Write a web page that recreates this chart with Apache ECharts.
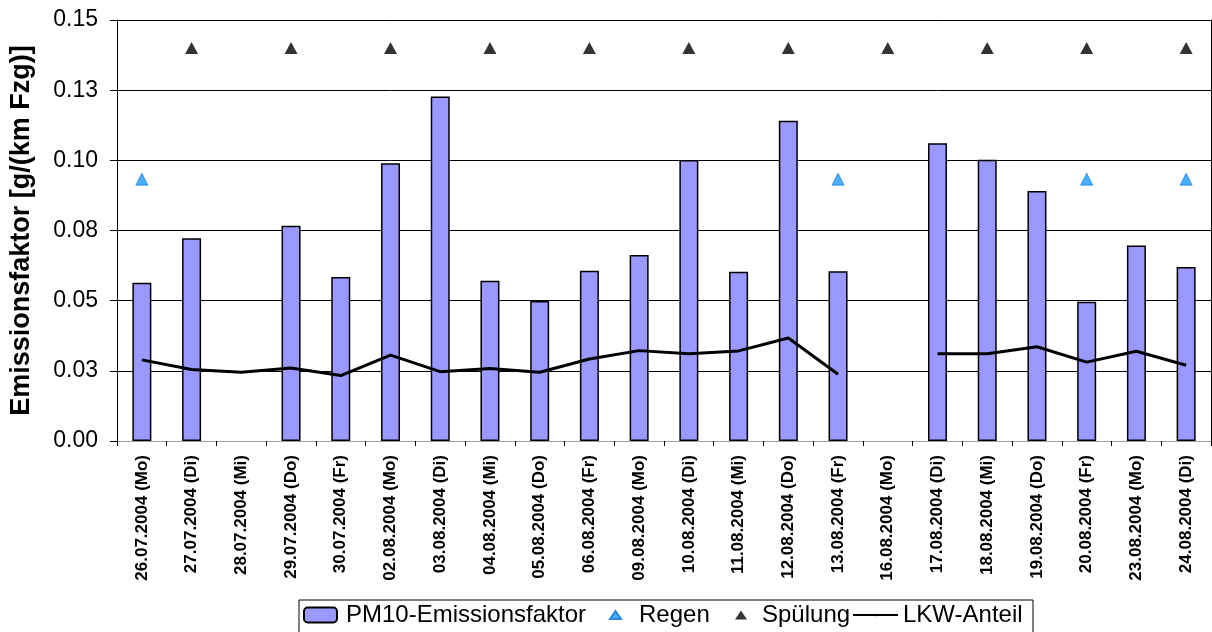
<!DOCTYPE html>
<html>
<head>
<meta charset="utf-8">
<script src="https://cdn.jsdelivr.net/npm/echarts@6/dist/echarts.min.js"></script>
<style>
	html, body { margin: 0; padding: 0; background: #fff; }
	#chart { width: 1212px; height: 632px; }
</style>
</head>
<body>
<div id="chart"></div>
<script>
//Daten
var categories = ['26.07.2004 (Mo)', '27.07.2004 (Di)', '28.07.2004 (Mi)', '29.07.2004 (Do)', '30.07.2004 (Fr)',
	'02.08.2004 (Mo)', '03.08.2004 (Di)', '04.08.2004 (Mi)', '05.08.2004 (Do)', '06.08.2004 (Fr)',
	'09.08.2004 (Mo)', '10.08.2004 (Di)', '11.08.2004 (Mi)', '12.08.2004 (Do)', '13.08.2004 (Fr)',
	'16.08.2004 (Mo)', '17.08.2004 (Di)', '18.08.2004 (Mi)', '19.08.2004 (Do)', '20.08.2004 (Fr)',
	'23.08.2004 (Mo)', '24.08.2004 (Di)'];
var pm10 = [0.0564, 0.0722, null, 0.0767, 0.0584, 0.0990, 0.1227, 0.0571, 0.0499, 0.0607, 0.0663,
	0.1001, 0.0603, 0.1141, 0.0605, null, 0.1061, 0.1002, 0.0891, 0.0496, 0.0697, 0.0620];
var lkw = [0.0289, 0.0255, 0.0245, 0.0260, 0.0233, 0.0306, 0.0247, 0.0258, 0.0245, 0.0292, 0.0322,
	0.0311, 0.0321, 0.0367, 0.0238, null, 0.0311, 0.0311, 0.0336, 0.0281, 0.0320, 0.0270];
var regen = [0.0933, null, null, null, null, null, null, null, null, null, null,
	null, null, null, 0.0933, null, null, null, null, 0.0933, null, 0.0933];
var spuelung = [null, 0.14, null, 0.14, null, 0.14, null, 0.14, null, 0.14, null,
	0.14, null, 0.14, null, 0.14, null, 0.14, null, 0.14, null, 0.14];
var yLabels = ['0.00', '0.03', '0.05', '0.08', '0.10', '0.13', '0.15'];

var font = 'Arial, "Liberation Sans", sans-serif';
var blue = '#1e9bff';

var myChart = echarts.init(document.getElementById('chart'));

//Legende: einzelne Einträge, damit die Abstände stimmen
function legendItem(name, left, w, h, pad) {
	return {
		data: [name],
		left: left,
		top: 603,
		padding: 0,
		itemWidth: w,
		itemHeight: h,
		symbolKeepAspect: false,
		selectedMode: false,
		textStyle: {
			fontFamily: font,
			fontSize: 24,
			lineHeight: 24,
			color: '#000',
			padding: [0, 0, 0, pad]
		}
	};
}

myChart.setOption({
	animation: false,
	backgroundColor: '#fff',
	textStyle: { fontFamily: font },
	grid: {
		left: 117,
		top: 20,
		width: 1094,
		height: 421
	},
	legend: [
		legendItem('PM10-Emissionsfaktor', 303, 33, 15, 4),
		legendItem('Regen', 609, 11, 8, 13),
		legendItem('Spülung', 735, 12, 9, 10),
		legendItem('LKW-Anteil', 852, 45, 3, 0)
	],
	//Rahmen um die Legende
	graphic: [{
		type: 'rect',
		left: 296.5,
		top: 597.5,
		shape: { width: 734, height: 40 },
		style: { fill: 'none', stroke: '#000', lineWidth: 1 },
		silent: true
	}],
	xAxis: [{
		type: 'category',
		data: categories,
		axisLine: { lineStyle: { color: '#000', width: 1 } },
		axisTick: { show: true, length: 5, lineStyle: { color: '#000' } },
		axisLabel: {
			interval: 0,
			rotate: 90,
			margin: 14,
			color: '#000',
			fontSize: 17,
			fontWeight: 'bold',
			fontFamily: font
		},
		splitLine: { show: false }
	}, {
		//oberer Rahmen
		type: 'category',
		position: 'top',
		data: categories,
		axisLine: { lineStyle: { color: '#a0a0a0' } },
		axisTick: { show: false },
		axisLabel: { show: false }
	}],
	yAxis: [{
		type: 'value',
		min: 0,
		max: 0.15,
		interval: 0.025,
		name: 'Emissionsfaktor [g/(km Fzg)]',
		nameLocation: 'middle',
		nameGap: 82,
		nameTextStyle: {
			color: '#000',
			fontSize: 27,
			fontWeight: 'bold',
			fontFamily: font
		},
		axisLine: { show: true, lineStyle: { color: '#000' } },
		axisTick: { show: true, length: 7, lineStyle: { color: '#000' } },
		axisLabel: {
			margin: 19,
			color: '#000',
			fontSize: 23,
			fontFamily: font,
			formatter: function(v) {
				return yLabels[Math.round(v / 0.025)];
			}
		},
		splitLine: {
			show: true,
			lineStyle: { color: '#000', width: 1 }
		}
	}, {
		//rechter Rahmen
		type: 'value',
		position: 'right',
		min: 0,
		max: 0.15,
		interval: 0.025,
		axisLine: { show: true, lineStyle: { color: '#000' } },
		axisTick: { show: false },
		axisLabel: { show: false },
		splitLine: { show: false }
	}],
	series: [{
		name: 'PM10-Emissionsfaktor',
		type: 'bar',
		data: pm10,
		barWidth: 19,
		itemStyle: {
			color: '#9999ff',
			borderColor: '#000',
			borderWidth: 1.5
		},
		z: 2
	}, {
		name: 'Regen',
		type: 'scatter',
		data: regen,
		symbol: 'triangle',
		symbolSize: [12, 12],
		itemStyle: {
			color: blue,
			borderColor: '#0a6fd8',
			borderWidth: 0.8
		},
		z: 4
	}, {
		name: 'Spülung',
		type: 'scatter',
		data: spuelung,
		symbol: 'triangle',
		symbolSize: [13, 12],
		itemStyle: { color: '#000' },
		z: 4
	}, {
		name: 'LKW-Anteil',
		type: 'line',
		data: lkw,
		symbol: 'none',
		connectNulls: false,
		lineStyle: { color: '#000', width: 3 },
		itemStyle: { color: '#000' },
		z: 3
	}]
});
</script>
</body>
</html>
